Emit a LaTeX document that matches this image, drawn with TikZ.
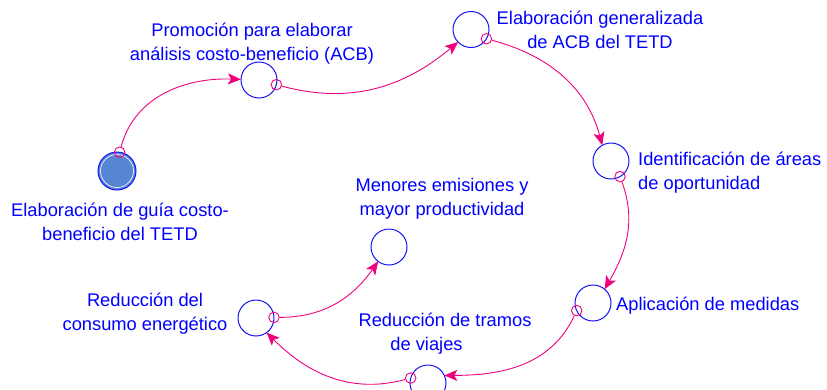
\documentclass[tikz,border=0pt]{standalone}
\usepackage{fontspec}
\setmainfont{Liberation Sans}
\usetikzlibrary{arrows.meta}
\definecolor{pinkc}{RGB}{240,0,125}
\definecolor{bluec}{RGB}{20,20,245}
\definecolor{textblue}{RGB}{0,0,255}
\definecolor{fillc}{RGB}{88,134,212}
\begin{document}
\begin{tikzpicture}[x=1pt,y=-1pt,
  circ/.style={circle,draw=bluec,line width=1pt,minimum size=36pt,inner sep=0pt,outer sep=0pt},
  smallc/.style={circle,draw=pinkc,line width=0.9pt,minimum size=10.5pt,inner sep=0pt},
  conn/.style={draw=pinkc,line width=0.9pt,-{Stealth[length=13pt,width=11pt,inset=3pt]}},
  lbl/.style={text=textblue,font=\fontsize{18.3}{24}\selectfont,inner sep=0pt,anchor=base}
]
\useasboundingbox (0,0) rectangle (827,389);
% circles
\node[circ,fill=fillc,minimum size=38pt] (c1) at (117,171) {};
\draw[white,line width=0.6pt] (c1.center) circle (16.5pt);
\node[circ] (c2) at (259,80) {};
\node[circ] (c3) at (471,29.5) {};
\node[circ] (c4) at (611,161) {};
\node[circ] (c5) at (593,303) {};
\node[circ] (c6) at (428,383) {};
\node[circ] (c7) at (256,318) {};
\node[circ] (c8) at (389,247) {};
% small circles
\node[smallc] (s1) at (c1.82) {};
\node[smallc] (s2) at (c2.-15) {};
\node[smallc] (s3) at (c3.-31) {};
\node[smallc] (s4) at (c4.-60) {};
\node[smallc] (s5) at (c5.205) {};
\node[smallc] (s6) at (c6.164) {};
\node[smallc] (s7) at (c7.2) {};
% connectors
\draw[conn] (s1) to[out=75,in=178] (c2.178);
\draw[conn] (s2) to[out=-15,in=220] (c3.224);
\draw[conn] (s3) to[out=-15,in=105] (c4.119);
\draw[conn] (s4) to[out=-70,in=60] (c5.50);
\draw[conn] (s5) to[out=245,in=0] (c6.25);
\draw[conn] (s6) to[out=195,in=-45] (c7.-54);
\draw[conn] (s7) to[out=0,in=235] (c8.233);
% labels (anchor = baseline of last line)
\node[lbl,align=center] (l2) at (252,60) {Promoción para elaborar\\análisis costo-beneficio (ACB)};
\node[lbl,align=center] (l3) at (600,48) {Elaboración generalizada\\de ACB del TETD};
\node[lbl,align=left,anchor=base west] (l4) at (638,189) {Identificación de áreas\\de oportunidad};
\node[lbl,anchor=base west] (l5) at (616,310) {Aplicación de medidas};
\node[lbl,align=center] (l6) at (445,350) {Reducción de tramos\\de viajes\hspace*{37pt}};
\node[lbl,align=center] (l7) at (145,330) {Reducción del\\consumo energético};
\node[lbl,align=center] (l8) at (442,215) {Menores emisiones y\\mayor productividad};
\node[lbl,align=center] (l1) at (120,240) {Elaboración de guía costo-\\beneficio del TETD};
\end{tikzpicture}
\end{document}
